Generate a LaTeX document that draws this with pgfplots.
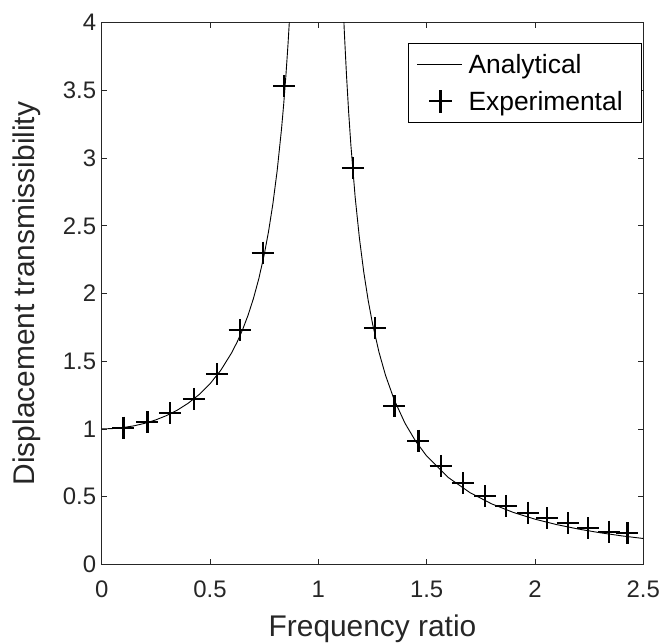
\documentclass[border=0pt]{standalone}
\usepackage{pgfplots}
\pgfplotsset{compat=1.18}
\usepackage{fontspec}
\setmainfont{Liberation Sans}
\definecolor{axgray}{HTML}{262626}
\begin{document}
\begin{tikzpicture}
\begin{axis}[
  scale only axis,
  width=541.6bp, height=541.6bp,
  xmin=0, xmax=2.5, ymin=0, ymax=4,
  xtick={0,0.5,1,1.5,2,2.5},
  ytick={0,0.5,1,1.5,2,2.5,3,3.5,4},
  xticklabels={0,0.5,1,1.5,2,2.5},
  yticklabels={0,0.5,1,1.5,2,2.5,3,3.5,4},
  tick align=inside,
  major tick length=5.5bp,
  tick style={axgray, line width=0.6bp},
  axis line style={axgray, line width=0.8bp},
  every tick label/.append style={font=\fontsize{24}{24}\selectfont, text=axgray},
  xticklabel style={yshift=-13bp},
  yticklabel style={xshift=-2bp},
  xlabel={Frequency ratio},
  ylabel={Displacement transmissibility},
  label style={font=\fontsize{30}{30}\selectfont, text=axgray},
  xlabel style={yshift=-10bp},
  ylabel style={yshift=15bp},
  legend style={at={(0.9976,0.9625)}, anchor=north east, draw=black, line width=0.7bp,
    font=\fontsize{26.5}{26.5}\selectfont, inner xsep=8bp, inner ysep=7bp, column sep=0pt, row sep=8bp,
    nodes={inner xsep=2bp, inner ysep=4bp}},
  legend cell align=left,
]
\addplot[black, line width=0.9bp,
  legend image code/.code={\path (0bp,0bp) (49bp,0bp);\draw[black, line width=0.9bp] (0bp,0bp) -- (45bp,0bp);}] coordinates {
(0,1) (0.05,1.0025) (0.1,1.0101) (0.15,1.0230) (0.2,1.0417) (0.25,1.0667) (0.3,1.0989)
(0.35,1.1396) (0.4,1.1905) (0.45,1.2539) (0.5,1.3333) (0.55,1.4337) (0.6,1.5625)
(0.625,1.6410) (0.65,1.7316) (0.675,1.8370) (0.7,1.9608) (0.725,2.1080) (0.75,2.2857)
(0.77,2.4564) (0.79,2.6603) (0.81,2.9078) (0.83,3.2144) (0.84,3.3967) (0.85,3.6036)
(0.86,3.8402) (0.87,4.1135) (0.88,4.4326)
};
\addlegendentry{Analytical}
\addplot[black, only marks, mark=+, mark size=11bp, mark options={line width=2.3bp},
  legend image code/.code={\path (0bp,0bp) (49bp,0bp);
    \draw[black, line width=2.3bp] (23.5bp,-11.5bp) -- (23.5bp,11.5bp) (12bp,0bp) -- (35bp,0bp);}] coordinates {
(0.100,1.009) (0.211,1.049) (0.315,1.115) (0.426,1.221) (0.532,1.405) (0.637,1.730)
(0.743,2.301) (0.842,3.53)
(1.159,2.925) (1.262,1.747) (1.351,1.169) (1.462,0.911) (1.565,0.726) (1.667,0.598)
(1.770,0.504) (1.867,0.431) (1.967,0.381) (2.057,0.340) (2.151,0.303) (2.246,0.266)
(2.342,0.241) (2.427,0.229)
};
\addlegendentry{Experimental\rule{9bp}{0pt}}
\addplot[black, line width=0.9bp, forget plot] coordinates {
(1.10,4.7619) (1.11,4.3085) (1.12,3.9308) (1.13,3.6114) (1.14,3.3378) (1.15,3.1008)
(1.17,2.7108) (1.19,2.4033) (1.21,2.1547) (1.23,1.9497) (1.25,1.7778) (1.28,1.5664)
(1.31,1.3964) (1.35,1.2158) (1.4,1.0417) (1.45,0.9070) (1.5,0.8) (1.6,0.6410)
(1.7,0.5291) (1.8,0.4464) (1.9,0.3831) (2.0,0.3333) (2.1,0.2933) (2.2,0.2604)
(2.3,0.2331) (2.4,0.2101) (2.5,0.1905)
};
\end{axis}
\pgfresetboundingbox
\path[use as bounding box] (current axis.south west) ++(-101.7bp,-79.7bp) rectangle ++(663bp,644bp);
\end{tikzpicture}
\end{document}
